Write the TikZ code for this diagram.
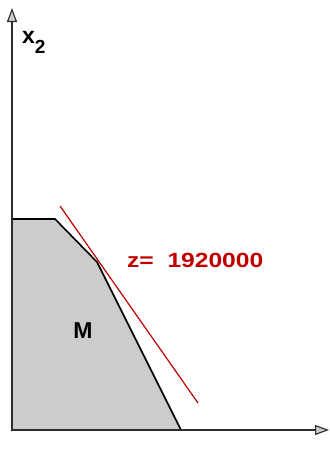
\documentclass[tikz,border=0pt]{standalone}
\usepackage{fontspec}
\setmainfont{Liberation Sans}
\usetikzlibrary{arrows.meta}
\definecolor{zred}{RGB}{192,0,0}
\definecolor{regiongray}{RGB}{204,204,204}
\definecolor{axisgray}{RGB}{45,45,45}
\tikzset{
  axisline/.style={draw=axisgray, line width=1.6pt,
    -{Triangle[length=14pt,width=10pt,fill=regiongray,line width=1.1pt]}},
  region/.style={fill=regiongray, draw=black, line width=1.6pt, line join=miter},
  objline/.style={draw=zred, line width=1.2pt},
  lbl/.style={inner sep=0pt, font=\bfseries\fontsize{23}{23}\selectfont}
}
\begin{document}
\begin{tikzpicture}[x=1pt,y=-1pt]
\useasboundingbox[fill=white] (0,0) rectangle (330,475);
% corners of region M
\coordinate (O) at (12,430);
\coordinate (A) at (12,219);
\coordinate (B) at (55,219);
\coordinate (C) at (97,262);
\coordinate (D) at (181,430);
\coordinate (ytip) at (12,8);
\coordinate (xtip) at (329,430);
\coordinate (r1) at (60,206);
\coordinate (r2) at (198,403);
% region
\path[region] (O) -- (A) -- (B) -- (C) -- (D) -- cycle;
% axes
\draw[axisline] (O) -- (ytip);
\draw[axisline] (O) -- (xtip);
% objective line
\draw[objline] (r1) -- (r2);
% labels
\node[lbl, anchor=base west] (x2) at (22,43.3) {x\raisebox{-10.5pt}{\fontsize{19}{19}\selectfont 2}};
\node[lbl, anchor=base west] (M) at (73.3,338.3) {M};
\node[lbl, anchor=base west, text=zred] (z) at (127,267.7) {\scalebox{1.2}[1]{\fontsize{20.5}{20.5}\selectfont z=\ \ 1920000}};
\end{tikzpicture}
\end{document}
